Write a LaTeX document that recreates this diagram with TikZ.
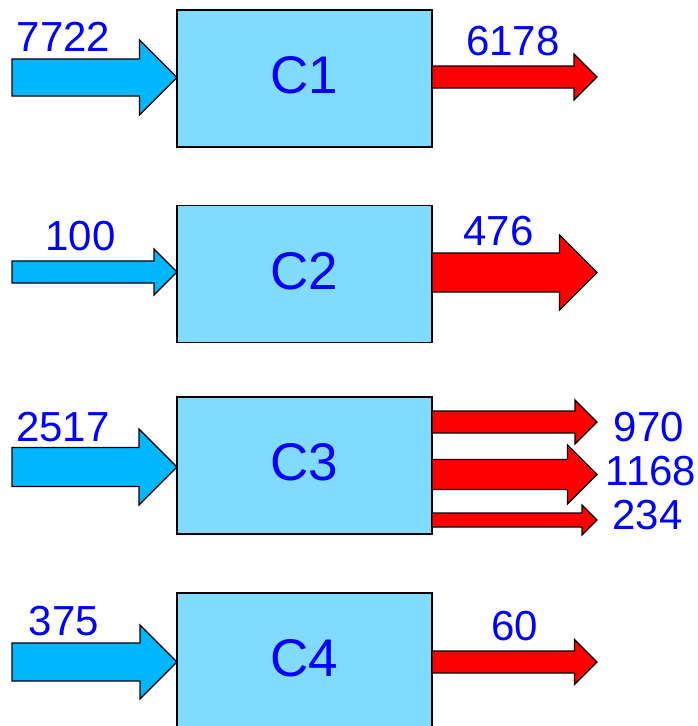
\documentclass[tikz,border=0pt]{standalone}
\usepackage{fontspec}
\setmainfont{Liberation Sans}
\usepackage{tikz}

\definecolor{azulcaixa}{RGB}{128,219,255}
\definecolor{azulseta}{RGB}{0,183,255}
\definecolor{azultexto}{RGB}{0,0,255}

% seta larga: estilo, x inicial, x da ponta, y, meia largura do corpo, meia largura da ponta
\newcommand{\seta}[6]{%
  \filldraw[#1] (#2,{#4-#5}) -- ({#3-#6},{#4-#5}) -- ({#3-#6},{#4-#6}) -- (#3,#4)
    -- ({#3-#6},{#4+#6}) -- ({#3-#6},{#4+#5}) -- (#2,{#4+#5}) -- cycle;}

\begin{document}
\begin{tikzpicture}[x=1pt, y=-1pt,
    caixa/.style={draw, line width=1.5pt, fill=azulcaixa, minimum width=255pt,
        minimum height=137pt, inner sep=0pt, text=azultexto,
        font=\fontsize{53}{53}\selectfont, text depth=7pt},
    entrada/.style={draw, line width=1.2pt, fill=azulseta},
    saida/.style={draw, line width=1.2pt, fill=red},
    valor/.style={inner sep=0pt, text=azultexto, font=\fontsize{42}{42}\selectfont}]
        \useasboundingbox (0,0) rectangle (697,726);

        % Caixas
        \node[caixa] (c1) at (304.5,78.5) {C1};
        \node[caixa] (c2) at (304.5,274) {C2};
        \node[caixa] (c3) at (304.5,465.5) {C3};
        \node[caixa] (c4) at (304.5,661.5) {C4};

        % Setas de entrada
        \seta{entrada}{12}{177}{77.5}{18.5}{37.5}
        \seta{entrada}{12}{177}{272}{11}{23}
        \seta{entrada}{12}{177}{467}{19.5}{38}
        \seta{entrada}{12}{177}{662}{19}{37}

        % Setas de saída
        \seta{saida}{432}{597}{77}{11}{23}
        \seta{saida}{432}{597}{272.5}{19.5}{37.5}
        \seta{saida}{432}{597}{422}{11}{22}
        \seta{saida}{432}{597}{474.5}{15}{29.5}
        \seta{saida}{432}{597}{520}{7}{15}
        \seta{saida}{432}{597}{662}{11}{22.5}

        % Valores
        \node[valor] (e1) at (63.5,37) {7722};
        \node[valor] (s1) at (513,41) {6178};
        \node[valor] (e2) at (80.5,236.5) {100};
        \node[valor] (s2) at (498.5,231.5) {476};
        \node[valor] (e3) at (63,427.5) {2517};
        \node[valor] (s3a) at (649,427) {970};
        \node[valor] (s3b) at (651,471) {1168};
        \node[valor] (s3c) at (647.5,515.5) {234};
        \node[valor] (e4) at (64,621) {375};
        \node[valor] (s4) at (514.5,626) {60};
    \end{tikzpicture}
\end{document}
